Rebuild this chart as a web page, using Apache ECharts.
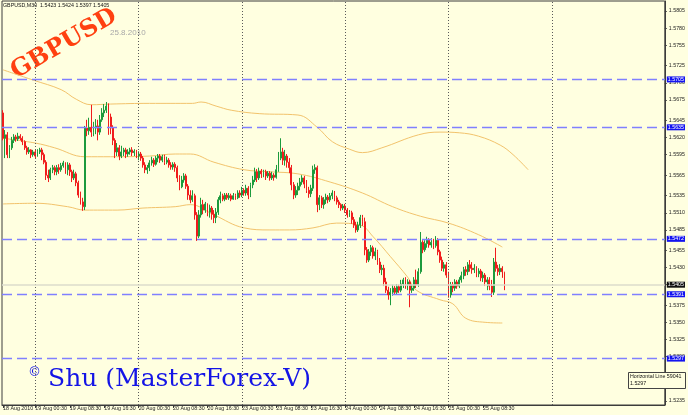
<!DOCTYPE html>
<html><head><meta charset="utf-8">
<script src="https://cdn.jsdelivr.net/npm/echarts@6/dist/echarts.min.js"></script>
<style>html,body{margin:0;padding:0;background:#ffffe0}#c{width:688px;height:415px}</style>
</head><body><div id="c"></div>
<script>
// ---- data (GBPUSD M30) ----
const tradingDays = ['18 Aug','19 Aug','20 Aug','23 Aug','24 Aug','25 Aug','26 Aug','27 Aug'];
const firstBarTime = '18 Aug 17:00';
const slotCount = 308;
const separatorDays = ['19 Aug','20 Aug','23 Aug','24 Aug','25 Aug','26 Aug'];

const opens = [1.5656,1.5619,1.5624,1.5595,1.5605,1.5616,1.5621,1.5618,1.5622,1.5619,
1.5614,1.5605,1.5599,1.5602,1.5595,1.5599,1.5593,1.5599,1.5602,1.5595,
1.5584,1.5565,1.5561,1.5573,1.5576,1.5570,1.5576,1.5573,1.5579,1.5583,
1.5573,1.5580,1.5570,1.5561,1.5567,1.5554,1.5536,1.5526,1.5519,1.5634,
1.5630,1.5635,1.5628,1.5634,1.5637,1.5628,1.5646,1.5656,1.5660,1.5666,
1.5650,1.5634,1.5616,1.5599,1.5605,1.5593,1.5599,1.5602,1.5596,1.5599,
1.5602,1.5598,1.5600,1.5593,1.5596,1.5590,1.5580,1.5573,1.5576,1.5583,
1.5587,1.5581,1.5590,1.5593,1.5587,1.5592,1.5584,1.5587,1.5580,1.5577,
1.5581,1.5576,1.5561,1.5548,1.5558,1.5564,1.5549,1.5536,1.5529,1.5535,
1.5507,1.5476,1.5507,1.5522,1.5514,1.5523,1.5511,1.5517,1.5508,1.5503,
1.5511,1.5529,1.5535,1.5530,1.5536,1.5532,1.5535,1.5530,1.5535,1.5532,
1.5539,1.5536,1.5543,1.5539,1.5546,1.5536,1.5551,1.5558,1.5570,1.5561,
1.5571,1.5567,1.5570,1.5564,1.5568,1.5561,1.5565,1.5562,1.5573,1.5590,
1.5599,1.5587,1.5593,1.5584,1.5576,1.5551,1.5536,1.5543,1.5549,1.5555,
1.5561,1.5552,1.5543,1.5538,1.5546,1.5573,1.5576,1.5522,1.5532,1.5522,
1.5529,1.5533,1.5529,1.5535,1.5539,1.5532,1.5526,1.5522,1.5517,1.5520,
1.5514,1.5507,1.5510,1.5500,1.5492,1.5485,1.5492,1.5503,1.5497,1.5456,
1.5441,1.5453,1.5459,1.5447,1.5453,1.5438,1.5427,1.5429,1.5409,1.5397,
1.5390,1.5394,1.5400,1.5394,1.5402,1.5397,1.5406,1.5412,1.5405,1.5409,
1.5397,1.5400,1.5412,1.5405,1.5424,1.5467,1.5456,1.5465,1.5470,1.5463,
1.5467,1.5462,1.5470,1.5453,1.5441,1.5429,1.5434,1.5419,1.5390,1.5405,
1.5400,1.5409,1.5403,1.5412,1.5418,1.5427,1.5424,1.5434,1.5429,1.5427,
1.5429,1.5421,1.5425,1.5415,1.5419,1.5409,1.5412,1.5403,1.5394,1.5438,
1.5429,1.5424,1.5429,1.5423];

const closes = [1.5619,1.5624,1.5595,1.5605,1.5616,1.5621,1.5618,1.5622,1.5619,1.5614,
1.5605,1.5599,1.5602,1.5595,1.5599,1.5593,1.5599,1.5602,1.5595,1.5584,
1.5565,1.5561,1.5573,1.5576,1.5570,1.5576,1.5573,1.5579,1.5583,1.5573,
1.5580,1.5570,1.5561,1.5567,1.5554,1.5536,1.5526,1.5519,1.5634,1.5630,
1.5635,1.5628,1.5634,1.5637,1.5628,1.5646,1.5656,1.5660,1.5666,1.5650,
1.5634,1.5616,1.5599,1.5605,1.5593,1.5599,1.5602,1.5596,1.5599,1.5602,
1.5598,1.5600,1.5593,1.5596,1.5590,1.5580,1.5573,1.5576,1.5583,1.5587,
1.5581,1.5590,1.5593,1.5587,1.5592,1.5584,1.5587,1.5580,1.5577,1.5581,
1.5576,1.5561,1.5548,1.5558,1.5564,1.5549,1.5536,1.5529,1.5535,1.5507,
1.5476,1.5507,1.5522,1.5514,1.5523,1.5511,1.5517,1.5508,1.5503,1.5511,
1.5529,1.5535,1.5530,1.5536,1.5532,1.5535,1.5530,1.5535,1.5532,1.5539,
1.5536,1.5543,1.5539,1.5546,1.5536,1.5551,1.5558,1.5570,1.5561,1.5571,
1.5567,1.5570,1.5564,1.5568,1.5561,1.5565,1.5562,1.5573,1.5590,1.5599,
1.5587,1.5593,1.5584,1.5576,1.5551,1.5536,1.5543,1.5549,1.5555,1.5561,
1.5552,1.5543,1.5538,1.5546,1.5573,1.5576,1.5522,1.5532,1.5522,1.5529,
1.5533,1.5529,1.5535,1.5539,1.5532,1.5526,1.5522,1.5517,1.5520,1.5514,
1.5507,1.5510,1.5500,1.5492,1.5485,1.5492,1.5503,1.5497,1.5456,1.5441,
1.5453,1.5459,1.5447,1.5453,1.5438,1.5427,1.5429,1.5409,1.5397,1.5390,
1.5394,1.5400,1.5394,1.5402,1.5397,1.5406,1.5412,1.5405,1.5409,1.5397,
1.5400,1.5412,1.5405,1.5424,1.5467,1.5456,1.5465,1.5470,1.5463,1.5467,
1.5462,1.5470,1.5453,1.5441,1.5429,1.5434,1.5419,1.5390,1.5405,1.5400,
1.5409,1.5403,1.5412,1.5418,1.5427,1.5424,1.5434,1.5429,1.5427,1.5429,
1.5421,1.5425,1.5415,1.5419,1.5409,1.5412,1.5403,1.5394,1.5438,1.5429,
1.5424,1.5429,1.5424,1.5405];

const lows = [1.5616,1.5590,1.5590,1.5590,1.5602,1.5612,1.5614,1.5615,1.5616,1.5609,
1.5602,1.5595,1.5596,1.5590,1.5592,1.5590,1.5592,1.5596,1.5587,1.5581,
1.5558,1.5555,1.5558,1.5568,1.5565,1.5565,1.5567,1.5570,1.5576,1.5567,
1.5565,1.5564,1.5555,1.5558,1.5549,1.5532,1.5522,1.5513,1.5514,1.5622,
1.5624,1.5621,1.5622,1.5625,1.5616,1.5624,1.5643,1.5650,1.5656,1.5624,
1.5625,1.5609,1.5590,1.5593,1.5587,1.5590,1.5593,1.5590,1.5592,1.5595,
1.5593,1.5593,1.5590,1.5587,1.5586,1.5576,1.5568,1.5567,1.5571,1.5579,
1.5577,1.5579,1.5584,1.5583,1.5584,1.5580,1.5581,1.5576,1.5573,1.5573,
1.5570,1.5555,1.5543,1.5546,1.5554,1.5545,1.5529,1.5524,1.5526,1.5500,
1.5469,1.5473,1.5503,1.5508,1.5510,1.5505,1.5503,1.5500,1.5495,1.5495,
1.5507,1.5524,1.5527,1.5527,1.5529,1.5529,1.5527,1.5529,1.5529,1.5530,
1.5532,1.5533,1.5535,1.5535,1.5530,1.5533,1.5546,1.5555,1.5555,1.5558,
1.5561,1.5562,1.5558,1.5561,1.5557,1.5558,1.5557,1.5560,1.5570,1.5587,
1.5580,1.5579,1.5576,1.5568,1.5543,1.5530,1.5532,1.5536,1.5543,1.5551,
1.5546,1.5539,1.5532,1.5533,1.5542,1.5567,1.5511,1.5514,1.5517,1.5516,
1.5523,1.5524,1.5526,1.5530,1.5527,1.5522,1.5517,1.5513,1.5514,1.5510,
1.5503,1.5504,1.5494,1.5488,1.5481,1.5482,1.5488,1.5491,1.5448,1.5437,
1.5438,1.5447,1.5443,1.5441,1.5434,1.5422,1.5419,1.5403,1.5393,1.5383,
1.5375,1.5389,1.5390,1.5390,1.5393,1.5394,1.5400,1.5399,1.5397,1.5372,
1.5393,1.5396,1.5400,1.5402,1.5421,1.5451,1.5453,1.5459,1.5459,1.5459,
1.5457,1.5459,1.5448,1.5437,1.5425,1.5424,1.5415,1.5386,1.5386,1.5394,
1.5396,1.5399,1.5400,1.5408,1.5413,1.5418,1.5419,1.5424,1.5421,1.5422,
1.5416,1.5416,1.5410,1.5409,1.5403,1.5397,1.5397,1.5387,1.5390,1.5424,
1.5418,1.5419,1.5415,1.5397];

const highs = [1.5660,1.5631,1.5628,1.5609,1.5621,1.5625,1.5624,1.5627,1.5625,1.5622,
1.5616,1.5608,1.5606,1.5603,1.5602,1.5602,1.5603,1.5605,1.5605,1.5598,
1.5587,1.5573,1.5576,1.5580,1.5579,1.5580,1.5581,1.5583,1.5586,1.5584,
1.5584,1.5583,1.5573,1.5573,1.5570,1.5557,1.5541,1.5532,1.5637,1.5646,
1.5649,1.5668,1.5643,1.5647,1.5646,1.5653,1.5663,1.5669,1.5672,1.5670,
1.5655,1.5638,1.5619,1.5612,1.5609,1.5608,1.5605,1.5605,1.5603,1.5605,
1.5606,1.5603,1.5602,1.5600,1.5599,1.5593,1.5584,1.5580,1.5587,1.5592,
1.5590,1.5593,1.5596,1.5596,1.5595,1.5595,1.5592,1.5590,1.5584,1.5584,
1.5584,1.5579,1.5565,1.5564,1.5568,1.5567,1.5552,1.5543,1.5543,1.5538,
1.5511,1.5514,1.5532,1.5529,1.5526,1.5524,1.5522,1.5520,1.5514,1.5517,
1.5533,1.5541,1.5538,1.5539,1.5539,1.5539,1.5538,1.5539,1.5538,1.5543,
1.5543,1.5548,1.5546,1.5551,1.5549,1.5554,1.5564,1.5576,1.5574,1.5576,
1.5574,1.5573,1.5573,1.5571,1.5571,1.5570,1.5568,1.5580,1.5599,1.5619,
1.5605,1.5602,1.5596,1.5590,1.5580,1.5555,1.5549,1.5554,1.5561,1.5565,
1.5564,1.5558,1.5548,1.5551,1.5579,1.5581,1.5579,1.5536,1.5535,1.5533,
1.5538,1.5536,1.5539,1.5543,1.5542,1.5535,1.5529,1.5524,1.5523,1.5523,
1.5517,1.5514,1.5513,1.5504,1.5497,1.5497,1.5507,1.5507,1.5503,1.5460,
1.5457,1.5463,1.5462,1.5459,1.5456,1.5444,1.5434,1.5434,1.5415,1.5402,
1.5400,1.5405,1.5403,1.5406,1.5405,1.5412,1.5415,1.5416,1.5413,1.5412,
1.5405,1.5416,1.5427,1.5429,1.5482,1.5470,1.5470,1.5475,1.5473,1.5473,
1.5472,1.5476,1.5473,1.5456,1.5446,1.5438,1.5438,1.5424,1.5409,1.5409,
1.5413,1.5412,1.5416,1.5424,1.5431,1.5432,1.5438,1.5441,1.5438,1.5435,
1.5432,1.5429,1.5428,1.5424,1.5422,1.5416,1.5416,1.5412,1.5444,1.5459,
1.5434,1.5435,1.5432,1.5424];

// envelope / band lines: [bar index, price]
const upperBand = [[0,1.5719],[14,1.5704],[27,1.5690],[34,1.5676],[41,1.5668],[50,1.5669],[68,1.5670],[88,1.5670],[92,1.5672],[99,1.5666],[106,1.5660],[119,1.5655],[137,1.5653],[146,1.5635],[153,1.5614],[161,1.5603],[167,1.5598],[176,1.5605],[193,1.5624],[203,1.5628],[212,1.5627],[221,1.5622],[231,1.5609],[237,1.5595],[244,1.5573]];
const middleBand = [[0,1.5619],[15,1.5612],[24,1.5605],[38,1.5592],[50,1.5592],[68,1.5593],[80,1.5596],[87,1.5596],[98,1.5584],[112,1.5573],[124,1.5570],[137,1.5567],[152,1.5555],[167,1.5539],[181,1.5519],[194,1.5505],[207,1.5495],[221,1.5478],[232,1.5460]];
const lowerBand = [[0,1.5523],[15,1.5524],[30,1.5519],[38,1.5514],[53,1.5514],[65,1.5517],[80,1.5519],[87,1.5522],[98,1.5507],[112,1.5488],[124,1.5485],[133,1.5485],[144,1.5488],[155,1.5495],[166,1.5492],[172,1.5475],[180,1.5446],[188,1.5416],[192,1.5397],[203,1.5383],[209,1.5377],[215,1.5356],[224,1.5350],[232,1.5349]];

const horizontalLevels = [1.5705,1.5635,1.5472,1.5391,1.5297];
const currentPrice = 1.5405;
const yTickLabels = [1.5805,1.5780,1.5755,1.5725,1.5700,1.5675,1.5645,1.5620,1.5595,1.5565,1.5535,1.5510,1.5485,1.5455,1.5430,1.5405,1.5375,1.5350,1.5325,1.5300,1.5270,1.5235];
const yMin = 1.522915, yMax = 1.581962;
const titleText = 'GBPUSD,M30  1.5423 1.5424 1.5397 1.5405';

// ---- build ----
const pad = n => (n < 10 ? '0' : '') + n;
const allSlots = [];
tradingDays.forEach(d => { for (let h = 0; h < 24; h++) for (const m of [0, 30]) allSlots.push(d + ' ' + pad(h) + ':' + pad(m)); });
const startIdx = allSlots.indexOf(firstBarTime);
const categories = allSlots.slice(startIdx, startIdx + slotCount);
const lastBar = opens.length - 1;
const ohlc = opens.map((o, i) => [o, closes[i], lows[i], highs[i]]);
const showLabel = i => i === 0 || (i % 16 === 15 && i <= lastBar);

const FONT = 'Liberation Sans';
const AX = '#3c3c3c';
const sepData = separatorDays.map(d => ({
  xAxis: categories.indexOf(d + ' 00:30'), label: { show: false },
  lineStyle: { color: '#5a5a5a', type: [1, 2], width: 1 }
}));
const levelLabel = (txt, bg) => ({ show: true, position: 'end', distance: 2, formatter: txt, color: '#fff', backgroundColor: bg, fontSize: 5.3, fontFamily: FONT, padding: [1, 1, 0, 1] });
const levelData = horizontalLevels.map(v => ({
  yAxis: v,
  lineStyle: { color: '#8080ff', type: [10, 5], width: 1.4 },
  label: levelLabel(v.toFixed(4), '#1414f0')
}));
const priceData = [{
  yAxis: currentPrice,
  lineStyle: { color: '#dcdccc', type: 'solid', width: 1.5 },
  label: levelLabel(currentPrice.toFixed(4), '#111')
}];

const bandStyle = { color: '#f2c36c', width: 1 };
const helper = (data, z) => ({
  type: 'line', data: [[0, currentPrice]], showSymbol: false, symbol: 'none', silent: true, z: z,
  lineStyle: { opacity: 0 }, tooltip: { show: false },
  markLine: { silent: true, symbol: 'none', animation: false, precision: 4, data: data }
});

const chart = echarts.init(document.getElementById('c'), null, { renderer: 'canvas' });
chart.setOption({
  animation: false,
  backgroundColor: '#ffffe0',
  grid: { left: 2, right: 21, top: 1, bottom: 10, show: true, borderColor: AX, borderWidth: 1, backgroundColor: '#ffffe0' },
  xAxis: {
    type: 'category', data: categories, boundaryGap: true,
    axisLine: { show: true, lineStyle: { color: AX } },
    axisTick: { show: true, length: 3, alignWithLabel: true, interval: (i) => showLabel(i), lineStyle: { color: AX } },
    axisLabel: { interval: (i) => showLabel(i), fontSize: 5.3, fontFamily: FONT, color: '#222', align: 'left', margin: 1,
      formatter: (v, i) => (i === 0 ? '18 Aug 2010' : v) },
    splitLine: { show: false }
  },
  yAxis: {
    type: 'value', position: 'right', min: yMin, max: yMax, scale: true,
    axisLine: { show: true, lineStyle: { color: AX } },
    axisTick: { show: true, length: 2, customValues: yTickLabels, lineStyle: { color: AX } },
    axisLabel: { customValues: yTickLabels, fontSize: 5.3, fontFamily: FONT, color: '#222', margin: 4, formatter: v => v.toFixed(4) },
    splitLine: { show: false }
  },
  series: [
    helper(sepData, 0),
    helper(priceData, 1),
    { type: 'line', data: upperBand, smooth: 0.4, showSymbol: false, lineStyle: bandStyle, z: 1, silent: true },
    { type: 'line', data: middleBand, smooth: 0.4, showSymbol: false, lineStyle: bandStyle, z: 1, silent: true },
    { type: 'line', data: lowerBand, smooth: 0.4, showSymbol: false, lineStyle: bandStyle, z: 1, silent: true },
    {
      type: 'candlestick', data: ohlc, barWidth: 1.4, z: 3,
      itemStyle: { color: '#1c9a3c', color0: '#f01c1c', borderColor: '#1c9a3c', borderColor0: '#f01c1c', borderWidth: 1 }
    },
    helper(levelData, 4)
  ],
  graphic: [
    { type: 'text', left: 3, top: 3, style: { text: titleText, fontSize: 5.3, fontFamily: FONT, fill: '#111' } },
    { type: 'text', x: 64, y: 44, rotation: Math.PI / 6, style: { text: 'GBPUSD', fontSize: 24, fontWeight: 'bold', fontFamily: 'DejaVu Serif', fill: '#ff4010', align: 'center', verticalAlign: 'middle' } },
    { type: 'text', x: 110, y: 29, style: { text: '25.8.2010', fontSize: 8, fontFamily: FONT, fill: '#a8a8a8' } },
    { type: 'text', x: 28, y: 366, style: { text: '©', fontSize: 13, fontFamily: 'DejaVu Serif', fill: '#1414e6' } },
    { type: 'text', x: 48, y: 367, style: { text: 'Shu (MasterForex-V)', fontSize: 25, fontFamily: 'DejaVu Serif', fill: '#1414e6' } },
    { type: 'rect', z: 100, shape: { x: 628.5, y: 372.5, width: 57, height: 16 }, style: { fill: '#ffffe0', stroke: '#444', lineWidth: 1 } },
    { type: 'text', z: 101, x: 630, y: 374, style: { text: 'Horizontal Line 59041', fontSize: 5.3, fontFamily: FONT, fill: '#111' } },
    { type: 'text', z: 101, x: 630, y: 381, style: { text: '1.5297', fontSize: 5.3, fontFamily: FONT, fill: '#111' } }
  ]
});
</script></body></html>
